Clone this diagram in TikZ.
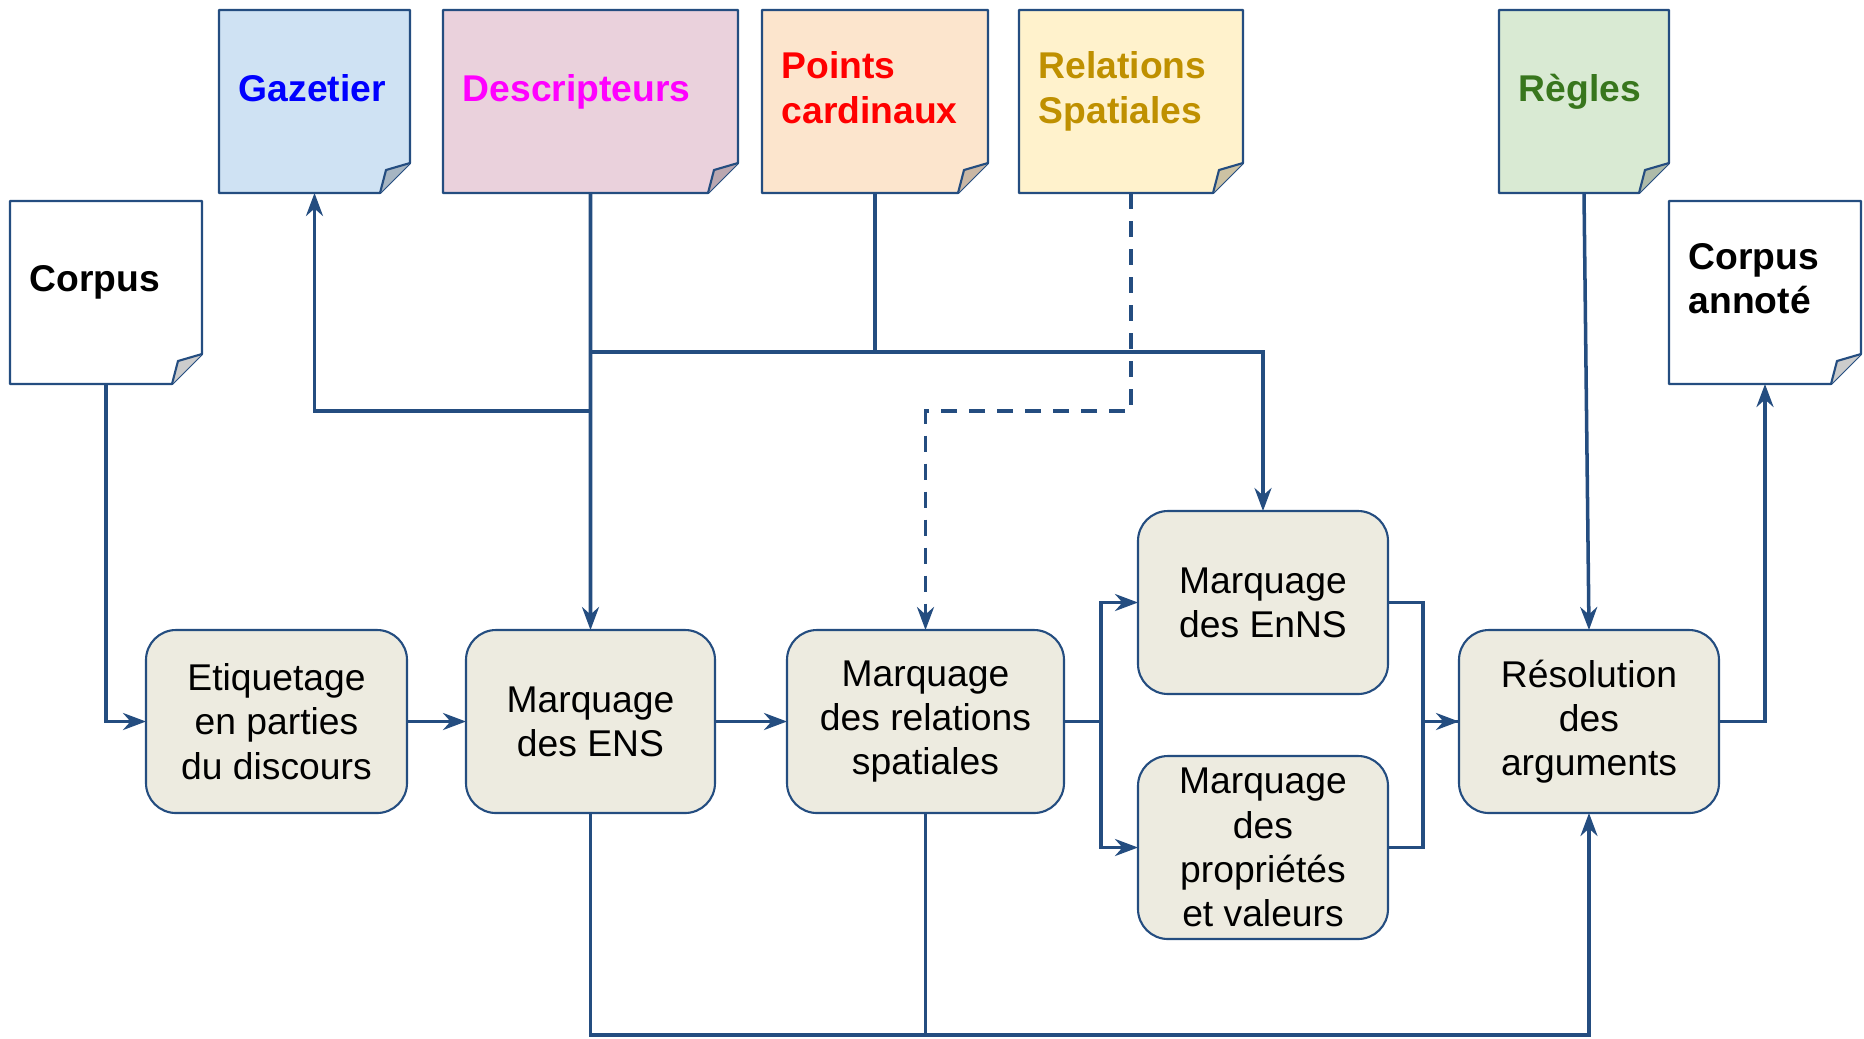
\documentclass[tikz,border=0pt]{standalone}
\usepackage{fontspec}
\setmainfont{Liberation Sans}
\usetikzlibrary{arrows.meta, positioning, calc}

\definecolor{linec}{RGB}{36,77,128}
\definecolor{procc}{RGB}{237,235,224}
\definecolor{gazc}{RGB}{207,226,243}
\definecolor{descc}{RGB}{234,209,220}
\definecolor{cardc}{RGB}{252,229,205}
\definecolor{relc}{RGB}{255,242,204}
\definecolor{regc}{RGB}{217,234,211}
\definecolor{gaztxt}{RGB}{0,0,255}
\definecolor{desctxt}{RGB}{255,0,255}
\definecolor{cardtxt}{RGB}{255,0,0}
\definecolor{reltxt}{RGB}{191,144,0}
\definecolor{regtxt}{RGB}{56,118,29}

% note with folded corner: name, north west corner, width, fill, text colour, text
\newcommand{\docnote}[6]{%
  \node[docbox, minimum width=#3cm, anchor=north west] (#1) at (#2) {};
  \filldraw[docline, fill=#4] (#1.north west) -- (#1.north east)
    -- ([yshift=3mm]#1.south east) -- ([xshift=-3mm]#1.south east)
    -- (#1.south west) -- cycle;
  \filldraw[docline, fill=#4!80!black] ([xshift=-3mm]#1.south east)
    -- ([shift={(-2.4mm,2.3mm)}]#1.south east) -- ([yshift=3mm]#1.south east);
  \node[doclabel, text=#5] (#1-txt) at ([shift={(0.19,-0.815)}]#1.north west) {#6\vphantom{gp}};
}

\begin{document}
\begin{tikzpicture}[font=\fontsize{10.6}{12.6}\selectfont,
    >={Stealth[length=2.3mm,width=1.7mm]},
    docbox/.style={rectangle, inner sep=0pt, outer sep=0pt, minimum height=1.83cm},
    docline/.style={draw=linec, line width=0.6pt, line join=round},
    doclabel/.style={anchor=west, align=left, inner sep=0pt,
      font=\fontsize{10.6}{12.6}\selectfont\bfseries},
    proc/.style={rectangle, rounded corners=3mm, draw=linec, line width=0.6pt,
      fill=procc, align=center, minimum height=1.83cm, inner sep=1pt, outer sep=0pt},
    flow/.style={draw=linec, line width=1pt}]
  \useasboundingbox (0,0) rectangle (18.64,-10.38);

  % resources
  \docnote{corpus}{0.10,-2.01}{1.92}{white}{black}{Corpus}
  \docnote{gaz}{2.19,-0.10}{1.91}{gazc}{gaztxt}{Gazetier}
  \docnote{desc}{4.43,-0.10}{2.95}{descc}{desctxt}{Descripteurs}
  \docnote{card}{7.62,-0.10}{2.26}{cardc}{cardtxt}{Points\\cardinaux}
  \docnote{relsp}{10.19,-0.10}{2.24}{relc}{reltxt}{Relations\\Spatiales}
  \docnote{regles}{14.99,-0.10}{1.70}{regc}{regtxt}{Règles}
  \docnote{annot}{16.69,-2.01}{1.92}{white}{black}{Corpus\\annoté}

  % processing steps
  \node[proc, minimum width=2.61cm] (etiq) at (2.765,-7.215) {Etiquetage\\en parties\\du discours};
  \node[proc, minimum width=2.49cm] (ens) at (5.905,-7.215) {Marquage\\des ENS};
  \node[proc, minimum width=2.77cm] (rel) at (9.255,-7.215) {Marquage\\des relations\\spatiales};
  \node[proc, minimum width=2.50cm] (enns) at (12.63,-6.025) {Marquage\\des EnNS};
  \node[proc, minimum width=2.50cm] (prop) at (12.63,-8.475) {Marquage\\des\\propriétés\\et valeurs};
  \node[proc, minimum width=2.60cm] (res) at (15.89,-7.215) {Résolution\\des\\arguments};

  % main chain
  \draw[flow,->] (corpus.south) |- (etiq.west);
  \draw[flow,->] (etiq) -- (ens);
  \draw[flow,->] (ens) -- (rel);
  \draw[flow,->] (rel.east) -- ++(0.37,0) |- (enns.west);
  \draw[flow,->] (rel.east) -- ++(0.37,0) |- (prop.west);
  \draw[flow,->] (enns.east) -- ++(0.35,0) |- (res.west);
  \draw[flow] (prop.east) -- ++(0.35,0) |- (res.west);
  \draw[flow,->] (res.east) -| (annot.south);

  % resources to steps
  \draw[flow,->] (desc.south) -- (ens.north);
  \draw[flow,->] (desc.south |- 0,-3.52) -| (enns.north);
  \draw[flow] (card.south) -- (card.south |- 0,-3.52);
  \draw[flow,->] (desc.south |- 0,-4.11) -| (gaz.south);
  \draw[flow,dash pattern=on 1.6mm off 1.2mm,->] (relsp.south) -- ++(0,-2.18) -| (rel.north);
  \draw[flow,->] (regles.south) -- (res.north);

  % bottom feedback
  \draw[flow] (ens.south) |- (rel.south |- 0,-10.35);
  \draw[flow,->] (rel.south) -- ++(0,-2.22) -| (res.south);
\end{tikzpicture}
\end{document}
